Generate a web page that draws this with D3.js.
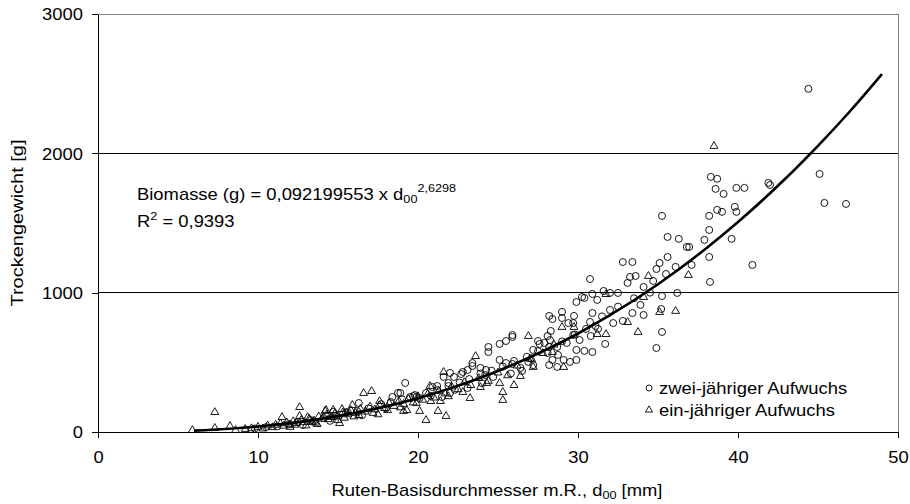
<!DOCTYPE html>
<html>
<head>
    <meta charset='utf-8' />
    <title>Biomasse</title>
    <script src="https://cdn.jsdelivr.net/npm/d3@7"></script>
    <style>
        body { margin: 0; padding: 0; background: #fff; }
        text { font-family: "Liberation Sans", Arial, sans-serif; fill: #000; }
    </style>
</head>
<body>
    <svg id="chart" width="910" height="504"></svg>
    <script>
        // zwei-jähriger Aufwuchs (circles), [d00 mm, g]
        var zweiJaehrig = [
            [44.4, 2463], [45.1, 1852], [45.4, 1644], [46.75, 1637], [41.9, 1788], [42.0, 1773],
            [38.3, 1831], [38.7, 1817], [38.6, 1745], [39.1, 1709], [39.9, 1752], [40.4, 1752],
            [35.25, 1551], [38.2, 1551], [38.7, 1594], [39.0, 1580], [39.8, 1616], [39.9, 1580],
            [38.2, 1450], [37.9, 1379], [39.6, 1386], [35.6, 1400], [36.3, 1386], [36.8, 1328],
            [36.95, 1328], [35.6, 1256], [38.2, 1256], [40.9, 1199], [35.1, 1213], [34.9, 1170],
            [36.1, 1185], [37.1, 1199], [35.5, 1134], [34.7, 1084], [34.1, 1041], [38.25, 1077],
            [32.8, 1220], [33.4, 1220], [33.25, 1113], [33.6, 1120], [33.1, 1070], [30.75, 1098],
            [31.6, 1012], [32.0, 998], [32.5, 998], [30.9, 991], [30.25, 969], [30.4, 962],
            [29.9, 933], [31.2, 948], [35.25, 976], [36.2, 998], [33.9, 912], [33.4, 854],
            [34.1, 840], [35.2, 883], [35.25, 718], [34.9, 603], [30.9, 854], [32.0, 876],
            [28.2, 833], [28.4, 811], [29.0, 862], [29.75, 833], [29.0, 818], [29.4, 782],
            [29.7, 782], [30.75, 790], [32.2, 782], [32.8, 797], [31.1, 761], [29.7, 696],
            [30.1, 660], [31.25, 740], [30.8, 689], [31.7, 632], [28.3, 725], [28.1, 689],
            [28.25, 660], [28.7, 610], [29.3, 639], [29.9, 589], [30.4, 582], [30.9, 574],
            [28.1, 567], [28.75, 553], [29.1, 517], [29.5, 503], [29.9, 517], [28.4, 517],
            [28.2, 481], [28.7, 467], [27.6, 632], [27.5, 653], [27.9, 639], [25.9, 696],
            [25.9, 682], [25.5, 653], [25.1, 632], [24.4, 610], [24.4, 574], [25.1, 517],
            [25.5, 495], [25.9, 488], [26.4, 460], [27.2, 589], [26.9, 503], [26.5, 438],
            [24.7, 395], [24.2, 409], [24.25, 445], [23.9, 460], [23.4, 474], [23.4, 495],
            [23.1, 445], [22.8, 431], [22.7, 416], [22.25, 395], [22.0, 424], [21.6, 395],
            [21.9, 352], [21.2, 330], [20.9, 323], [23.1, 316], [22.3, 302], [21.5, 251],
            [20.1, 244], [19.9, 251], [19.7, 258], [19.5, 251], [19.2, 352], [18.9, 280],
            [18.75, 280], [18.4, 251], [16.3, 208], [15.6, 144], [14.7, 144],
            [9.8, 25], [10.5, 35], [11.2, 40], [11.9, 55], [12.5, 72], [13.3, 85], [14.1, 100],
            [14.9, 115], [15.5, 140], [16.2, 150], [16.9, 170], [17.7, 200], [18.3, 215],
            [19.0, 235], [19.8, 265], [20.5, 280], [21.2, 300], [21.9, 330], [22.6, 355],
            [23.2, 380], [23.9, 420], [24.6, 440], [25.3, 470], [26.0, 510], [26.8, 540],
            [27.5, 580], [28.2, 610], [29.0, 650], [29.8, 700], [30.5, 740], [31.5, 830],
            [32.5, 900], [33.5, 960], [34.5, 1000], [12.8, 50], [14.5, 80], [16.5, 120],
            [18.0, 170], [20.8, 260], [22.0, 280], [24.0, 350], [25.8, 420], [27.2, 480]
        ];

        // ein-jähriger Aufwuchs (triangles)
        var einJaehrig = [
            [38.5, 2046], [34.4, 1113], [36.9, 1120], [34.1, 962], [35.1, 854], [36.1, 862],
            [31.75, 983], [33.1, 782], [33.75, 711], [29.0, 747], [29.75, 747], [31.2, 696],
            [31.75, 696], [28.4, 567], [29.1, 460], [26.9, 682], [27.1, 517], [27.2, 460],
            [26.4, 395], [26.0, 330], [25.1, 345], [25.3, 280], [25.3, 223], [23.6, 538],
            [21.6, 424], [24.3, 345], [23.9, 316], [23.25, 237], [21.4, 215], [21.25, 144],
            [21.75, 108], [20.5, 79], [20.1, 144], [19.1, 144], [20.75, 323], [17.1, 287],
            [16.6, 273], [17.6, 215], [15.9, 187], [15.25, 158], [14.7, 151], [14.25, 151],
            [14.2, 144], [15.1, 57], [15.0, 79], [12.6, 172], [12.6, 108], [11.5, 100],
            [13.4, 65], [13.7, 50], [13.1, 100], [7.3, 136], [7.3, 22], [5.9, 7], [8.6, 7],
            [8.25, 36],
            [9.2, 15], [9.6, 20], [10.0, 30], [10.3, 18], [10.6, 40], [10.9, 28], [11.1, 45],
            [11.4, 55], [11.6, 38], [11.8, 62], [12.0, 48], [12.2, 70], [12.4, 58], [12.7, 80],
            [12.9, 65], [13.2, 90], [13.5, 75], [13.8, 105], [14.0, 88], [14.3, 118], [14.6, 100],
            [14.8, 125], [15.0, 110], [15.3, 135], [15.6, 120], [15.8, 150], [16.1, 130],
            [16.4, 160], [16.7, 140], [17.0, 175], [17.3, 155], [17.6, 185], [17.9, 165],
            [18.2, 200], [18.5, 180], [18.8, 215], [19.1, 195], [19.4, 230], [19.7, 205],
            [20.0, 250], [20.3, 225], [20.6, 265], [21.0, 240], [21.3, 290], [21.7, 270],
            [22.1, 320], [22.5, 300], [22.9, 350], [23.3, 330], [23.8, 380], [24.4, 360],
            [25.0, 420], [25.6, 400], [26.2, 470], [27.0, 520], [27.8, 560], [28.5, 620],
            [19.3, 150], [17.5, 120], [16.0, 105], [13.0, 40], [12.0, 30],
            [12.3, 45], [13.6, 60], [14.4, 85], [15.4, 95], [16.3, 115], [17.2, 130],
            [18.1, 150], [18.9, 170], [19.9, 200], [20.8, 215], [21.9, 250], [22.8, 280]
        ];

        // Trendlinie
        var trendX = [6, 8, 10, 12, 15, 18, 20, 22, 25, 28, 30, 32, 35, 38, 40, 42, 45, 47, 49];
        var trendY = [10, 22, 39, 64, 114, 184, 243, 313, 438, 590, 707, 838, 1060, 1317, 1507, 1713, 2054, 2302, 2569];

        var xTicks = [0, 10, 20, 30, 40, 50];
        var yTicks = [0, 1000, 2000, 3000];
        var gridValues = [1000, 2000, 3000];

        var svg = d3.select('#chart');
        var plotLeft = 98, plotRight = 898, plotTop = 14, plotBottom = 432;
        var sx = 1.15; // Schrift ist im Original etwas breit gezogen

        var x = d3.scaleLinear().domain([0, 50]).range([plotLeft, plotRight]);
        var y = d3.scaleLinear().domain([0, 3000]).range([plotBottom, plotTop]);

        function stretchedText(px, py, anchor, size) {
            return svg.append('text')
                .attr('transform', 'translate(' + px + ',' + py + ') scale(' + sx + ',1)')
                .attr('text-anchor', anchor)
                .style('font-size', size + 'px');
        }

        // gridlines + frame
        svg.append('g').selectAll('line')
            .data(gridValues)
            .enter().append('line')
            .attr('x1', plotLeft).attr('x2', plotRight)
            .attr('y1', function (d) { return y(d); })
            .attr('y2', function (d) { return y(d); })
            .attr('stroke', function (d) { return d == 3000 ? '#808080' : '#000'; })
            .attr('stroke-width', 1)
            .attr('shape-rendering', 'crispEdges');
        svg.append('line')
            .attr('x1', plotRight).attr('x2', plotRight).attr('y1', plotTop).attr('y2', plotBottom)
            .attr('stroke', '#808080').attr('shape-rendering', 'crispEdges');

        var xAxis = svg.append('g')
            .attr('transform', 'translate(0,' + plotBottom + ')')
            .call(d3.axisBottom(x).tickValues(xTicks).tickSize(6).tickSizeOuter(0));
        var yAxis = svg.append('g')
            .attr('transform', 'translate(' + plotLeft + ',0)')
            .call(d3.axisLeft(y).tickValues(yTicks).tickFormat(d3.format('d')).tickSize(6).tickSizeOuter(0));
        [xAxis, yAxis].forEach(function (g) {
            g.selectAll('text').style('font-size', '16px').style('font-family', '"Liberation Sans", Arial, sans-serif');
            g.selectAll('line, path').attr('stroke', '#000').attr('shape-rendering', 'crispEdges');
        });
        xAxis.selectAll('.tick text').attr('y', 31).attr('dy', 0)
            .attr('transform', 'scale(' + sx + ',1)');
        yAxis.selectAll('.tick text').attr('x', -15 / sx).attr('dy', '0.36em')
            .attr('transform', 'scale(' + sx + ',1)');

        // markers
        svg.append('g').selectAll('circle')
            .data(zweiJaehrig)
            .enter().append('circle')
            .attr('cx', function (d) { return x(d[0]); })
            .attr('cy', function (d) { return y(d[1]); })
            .attr('r', 3.5)
            .attr('fill', 'none')
            .attr('stroke', '#000')
            .attr('stroke-width', 0.9);

        var tri = d3.symbol().type(d3.symbolTriangle).size(27);
        svg.append('g').selectAll('path')
            .data(einJaehrig)
            .enter().append('path')
            .attr('d', tri)
            .attr('transform', function (d) { return 'translate(' + x(d[0]) + ',' + (y(d[1]) - 0.8) + ')'; })
            .attr('fill', 'none')
            .attr('stroke', '#000')
            .attr('stroke-width', 0.9);

        // trendline
        var line = d3.line()
            .x(function (d, i) { return x(trendX[i]); })
            .y(function (d) { return y(d); })
            .curve(d3.curveMonotoneX);
        svg.append('path')
            .datum(trendY)
            .attr('d', line)
            .attr('fill', 'none')
            .attr('stroke', '#000')
            .attr('stroke-width', 2.6);

        // equation
        var eq = stretchedText(137, 200, 'start', 16);
        eq.append('tspan').text('Biomasse (g) = 0,092199553 x d');
        eq.append('tspan').attr('dy', 3).style('font-size', '11px').text('00');
        eq.append('tspan').attr('dy', -11).style('font-size', '11px').text('2,6298');
        var r2 = stretchedText(137, 227, 'start', 16);
        r2.append('tspan').text('R');
        r2.append('tspan').attr('dy', -7).style('font-size', '11px').text('2');
        r2.append('tspan').attr('dy', 7).text(' = 0,9393');

        // legend
        svg.append('circle').attr('cx', 649).attr('cy', 388).attr('r', 3)
            .attr('fill', 'none').attr('stroke', '#000').attr('stroke-width', 0.9);
        svg.append('path').attr('d', d3.symbol().type(d3.symbolTriangle).size(22))
            .attr('transform', 'translate(649,410)')
            .attr('fill', 'none').attr('stroke', '#000').attr('stroke-width', 0.9);
        stretchedText(659, 394, 'start', 16).text('zwei-jähriger Aufwuchs');
        stretchedText(659, 416, 'start', 16).text('ein-jähriger Aufwuchs');

        // axis titles
        var xt = stretchedText(497, 496, 'middle', 16);
        xt.append('tspan').text('Ruten-Basisdurchmesser m.R., d');
        xt.append('tspan').attr('dy', 3).style('font-size', '11px').text('00');
        xt.append('tspan').attr('dy', -3).text(' [mm]');

        svg.append('text')
            .attr('transform', 'translate(23,223) rotate(-90) scale(1.25,1)')
            .attr('text-anchor', 'middle')
            .style('font-size', '16px')
            .text('Trockengewicht [g]');
    </script>
</body>
</html>
